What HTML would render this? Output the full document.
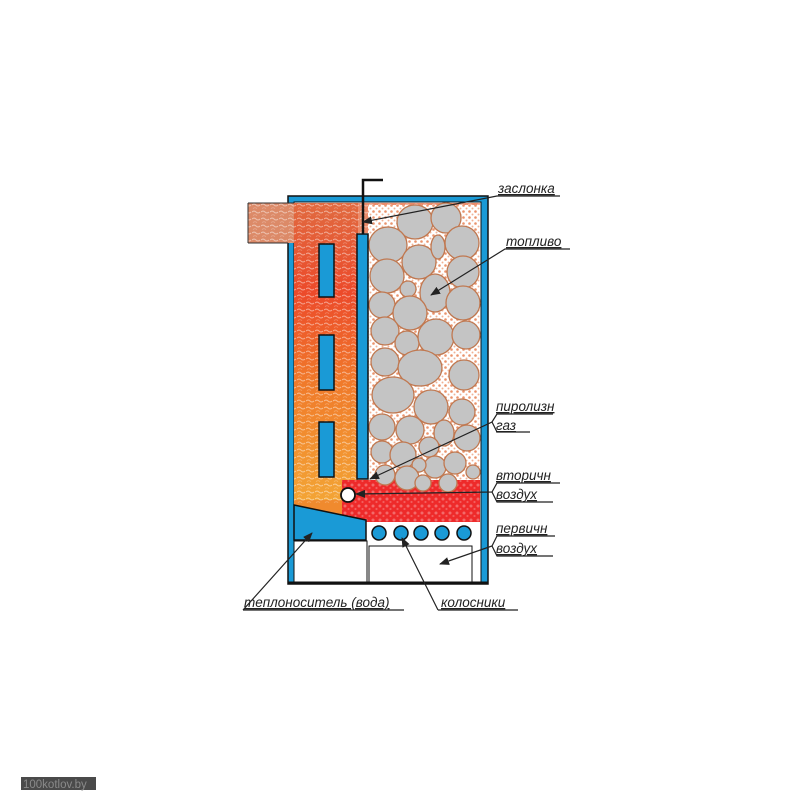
<!DOCTYPE html>
<html><head><meta charset="utf-8"><style>
html,body{margin:0;padding:0;background:#fff;width:801px;height:801px;overflow:hidden}
svg{display:block}
text{font-family:"Liberation Sans",sans-serif;font-style:italic;font-size:13.5px;fill:#222;text-decoration:underline}
</style></head><body>
<svg width="801" height="801" viewBox="0 0 801 801" xmlns="http://www.w3.org/2000/svg">
<defs>
<linearGradient id="fl" x1="0" y1="0" x2="0" y2="1">
<stop offset="0" stop-color="#e06a40"/><stop offset="0.3" stop-color="#ec4a2a"/><stop offset="0.6" stop-color="#f07a2a"/><stop offset="1" stop-color="#f3a535"/>
</linearGradient>
<pattern id="tex" width="9" height="7" patternUnits="userSpaceOnUse">
<path d="M0 2 Q2 0 4 2 T8 2" stroke="#fff" stroke-width="1.1" fill="none" opacity="0.45"/>
<path d="M1 5.5 Q3 4 5 5.5" stroke="#fff" stroke-width="0.8" fill="none" opacity="0.3"/>
</pattern>
<pattern id="orn" width="6" height="6" patternUnits="userSpaceOnUse">
<circle cx="1.5" cy="1.5" r="1.3" fill="#e2662e" opacity="0.7"/><circle cx="4.5" cy="4.5" r="1" fill="#e2662e" opacity="0.5"/>
</pattern>
<pattern id="tex2" width="7" height="7" patternUnits="userSpaceOnUse">
<circle cx="2" cy="2" r="1.5" fill="#fff" opacity="0.5"/><circle cx="5.5" cy="5" r="1.1" fill="#fff" opacity="0.4"/>
</pattern>
<marker id="ar" markerWidth="10" markerHeight="8" refX="9" refY="4" orient="auto" markerUnits="userSpaceOnUse"><path d="M0 0 L10 4 L0 8 Z" fill="#222"/></marker>
</defs>
<rect x="288" y="196" width="200" height="388" fill="#1a9ad6" stroke="#111" stroke-width="1.5"/>
<rect x="294" y="202" width="187" height="381" fill="#fff" stroke="#111" stroke-width="1"/>
<rect x="248" y="203" width="52" height="40" fill="#dc8a68"/>
<rect x="248" y="203" width="52" height="40" fill="url(#tex)"/>
<path d="M248 203 H294 M248 243 H288 M248 203 V243" stroke="#333" stroke-width="1" fill="none"/>
<rect x="294" y="203" width="64" height="300" fill="url(#fl)"/>
<path d="M294 500 L350 500 L366 520 L294 505Z" fill="#f08a2e"/>
<rect x="294" y="203" width="64" height="300" fill="url(#tex)"/>
<rect x="358" y="203" width="122" height="30" fill="#e56e45" opacity="0.8"/>
<rect x="358" y="203" width="122" height="30" fill="url(#tex)"/>
<rect x="368" y="205" width="112" height="275" fill="#fff"/>
<rect x="368" y="205" width="112" height="275" fill="url(#orn)"/>
<rect x="342" y="480" width="138" height="42" fill="#ee2a2a"/>
<rect x="342" y="480" width="138" height="42" fill="url(#tex2)" opacity="0.6"/>
<g fill="#c4c4c4" stroke="#c07850" stroke-width="1.3">
<ellipse cx="415" cy="222" rx="18" ry="17"/><circle cx="446" cy="218" r="15"/>
<ellipse cx="388" cy="245" rx="19" ry="18"/><circle cx="419" cy="262" r="17"/>
<ellipse cx="438" cy="247" rx="7" ry="12"/><circle cx="462" cy="243" r="17"/>
<circle cx="387" cy="276" r="17"/><circle cx="408" cy="289" r="8"/>
<ellipse cx="435" cy="293" rx="15" ry="19"/><circle cx="463" cy="272" r="16"/>
<circle cx="463" cy="303" r="17"/><circle cx="382" cy="305" r="13"/>
<circle cx="410" cy="313" r="17"/><circle cx="385" cy="331" r="14"/>
<circle cx="407" cy="343" r="12"/><circle cx="436" cy="337" r="18"/>
<circle cx="466" cy="335" r="14"/><circle cx="385" cy="362" r="14"/>
<ellipse cx="420" cy="368" rx="22" ry="18"/><circle cx="464" cy="375" r="15"/>
<ellipse cx="393" cy="395" rx="21" ry="18"/><circle cx="431" cy="407" r="17"/>
<circle cx="462" cy="412" r="13"/><circle cx="382" cy="427" r="13"/>
<circle cx="410" cy="430" r="14"/><ellipse cx="444" cy="433" rx="10" ry="13"/>
<circle cx="467" cy="438" r="13"/><circle cx="382" cy="452" r="11"/>
<circle cx="403" cy="455" r="13"/><circle cx="429" cy="447" r="10"/>
<circle cx="435" cy="467" r="11"/><circle cx="419" cy="465" r="7"/>
<circle cx="455" cy="463" r="11"/><circle cx="473" cy="472" r="7"/>
<circle cx="385" cy="475" r="10"/><circle cx="407" cy="478" r="12"/>
<circle cx="423" cy="483" r="8"/><circle cx="448" cy="483" r="9"/>
</g>
<g fill="#1a9ad6" stroke="#111" stroke-width="1.5">
<rect x="319" y="244" width="15" height="53"/>
<rect x="319" y="335" width="15" height="55"/>
<rect x="319" y="422" width="15" height="55"/>
<rect x="357" y="234" width="11" height="245"/>
<path d="M294 505 L366 520 L366 540 L294 540Z"/>
</g>
<path d="M294 541 H367 V583" stroke="#111" stroke-width="1" fill="none"/>
<g fill="#1a9ad6" stroke="#111" stroke-width="1.5">
<circle cx="379" cy="533" r="7"/><circle cx="401" cy="533" r="7"/><circle cx="421" cy="533" r="7"/><circle cx="442" cy="533" r="7"/><circle cx="464" cy="533" r="7"/>
</g>
<rect x="369" y="546" width="103" height="37" fill="#fff" stroke="#111" stroke-width="1"/>
<line x1="288" y1="583" x2="488" y2="583" stroke="#111" stroke-width="3"/>
<circle cx="348" cy="495" r="7" fill="#fff" stroke="#111" stroke-width="1.8"/>
<path d="M363 234 V180 H383" stroke="#111" stroke-width="2.5" fill="none"/>
<g stroke="#222" stroke-width="1.2" fill="none">
<path d="M560 196 H497 L363 222" marker-end="url(#ar)"/>
<path d="M570 249 H505 L431 295" marker-end="url(#ar)"/>
<path d="M553 414 H497 L492 422 L370 479" marker-end="url(#ar)"/>
<path d="M492 422 L497 432 H530"/>
<path d="M560 483 H497 L492 492 L356 494" marker-end="url(#ar)"/>
<path d="M492 492 L497 502 H553"/>
<path d="M555 536 H497 L492 546 L440 564" marker-end="url(#ar)"/>
<path d="M492 546 L497 556 H553"/>
<path d="M243 610 L312 533" marker-end="url(#ar)"/>
<path d="M243 610 H404"/>
<path d="M438 610 L402 538" marker-end="url(#ar)"/>
<path d="M438 610 H518"/>
</g>
<text x="498" y="193">заслонка</text>
<text x="506" y="246">топливо</text>
<text x="496" y="411">пиролизн</text>
<text x="496" y="430">газ</text>
<text x="496" y="480">вторичн</text>
<text x="496" y="499">воздух</text>
<text x="496" y="533">первичн</text>
<text x="496" y="553">воздух</text>
<text x="244" y="607">теплоноситель (вода)</text>
<text x="441" y="607">колосники</text>
<rect x="21" y="777" width="75" height="13" fill="#4a4a4a"/>
<text x="23" y="788" style="font-style:normal;text-decoration:none;font-size:11.5px;fill:#8a8a8a">100kotlov.by</text>
</svg>
</body></html>
